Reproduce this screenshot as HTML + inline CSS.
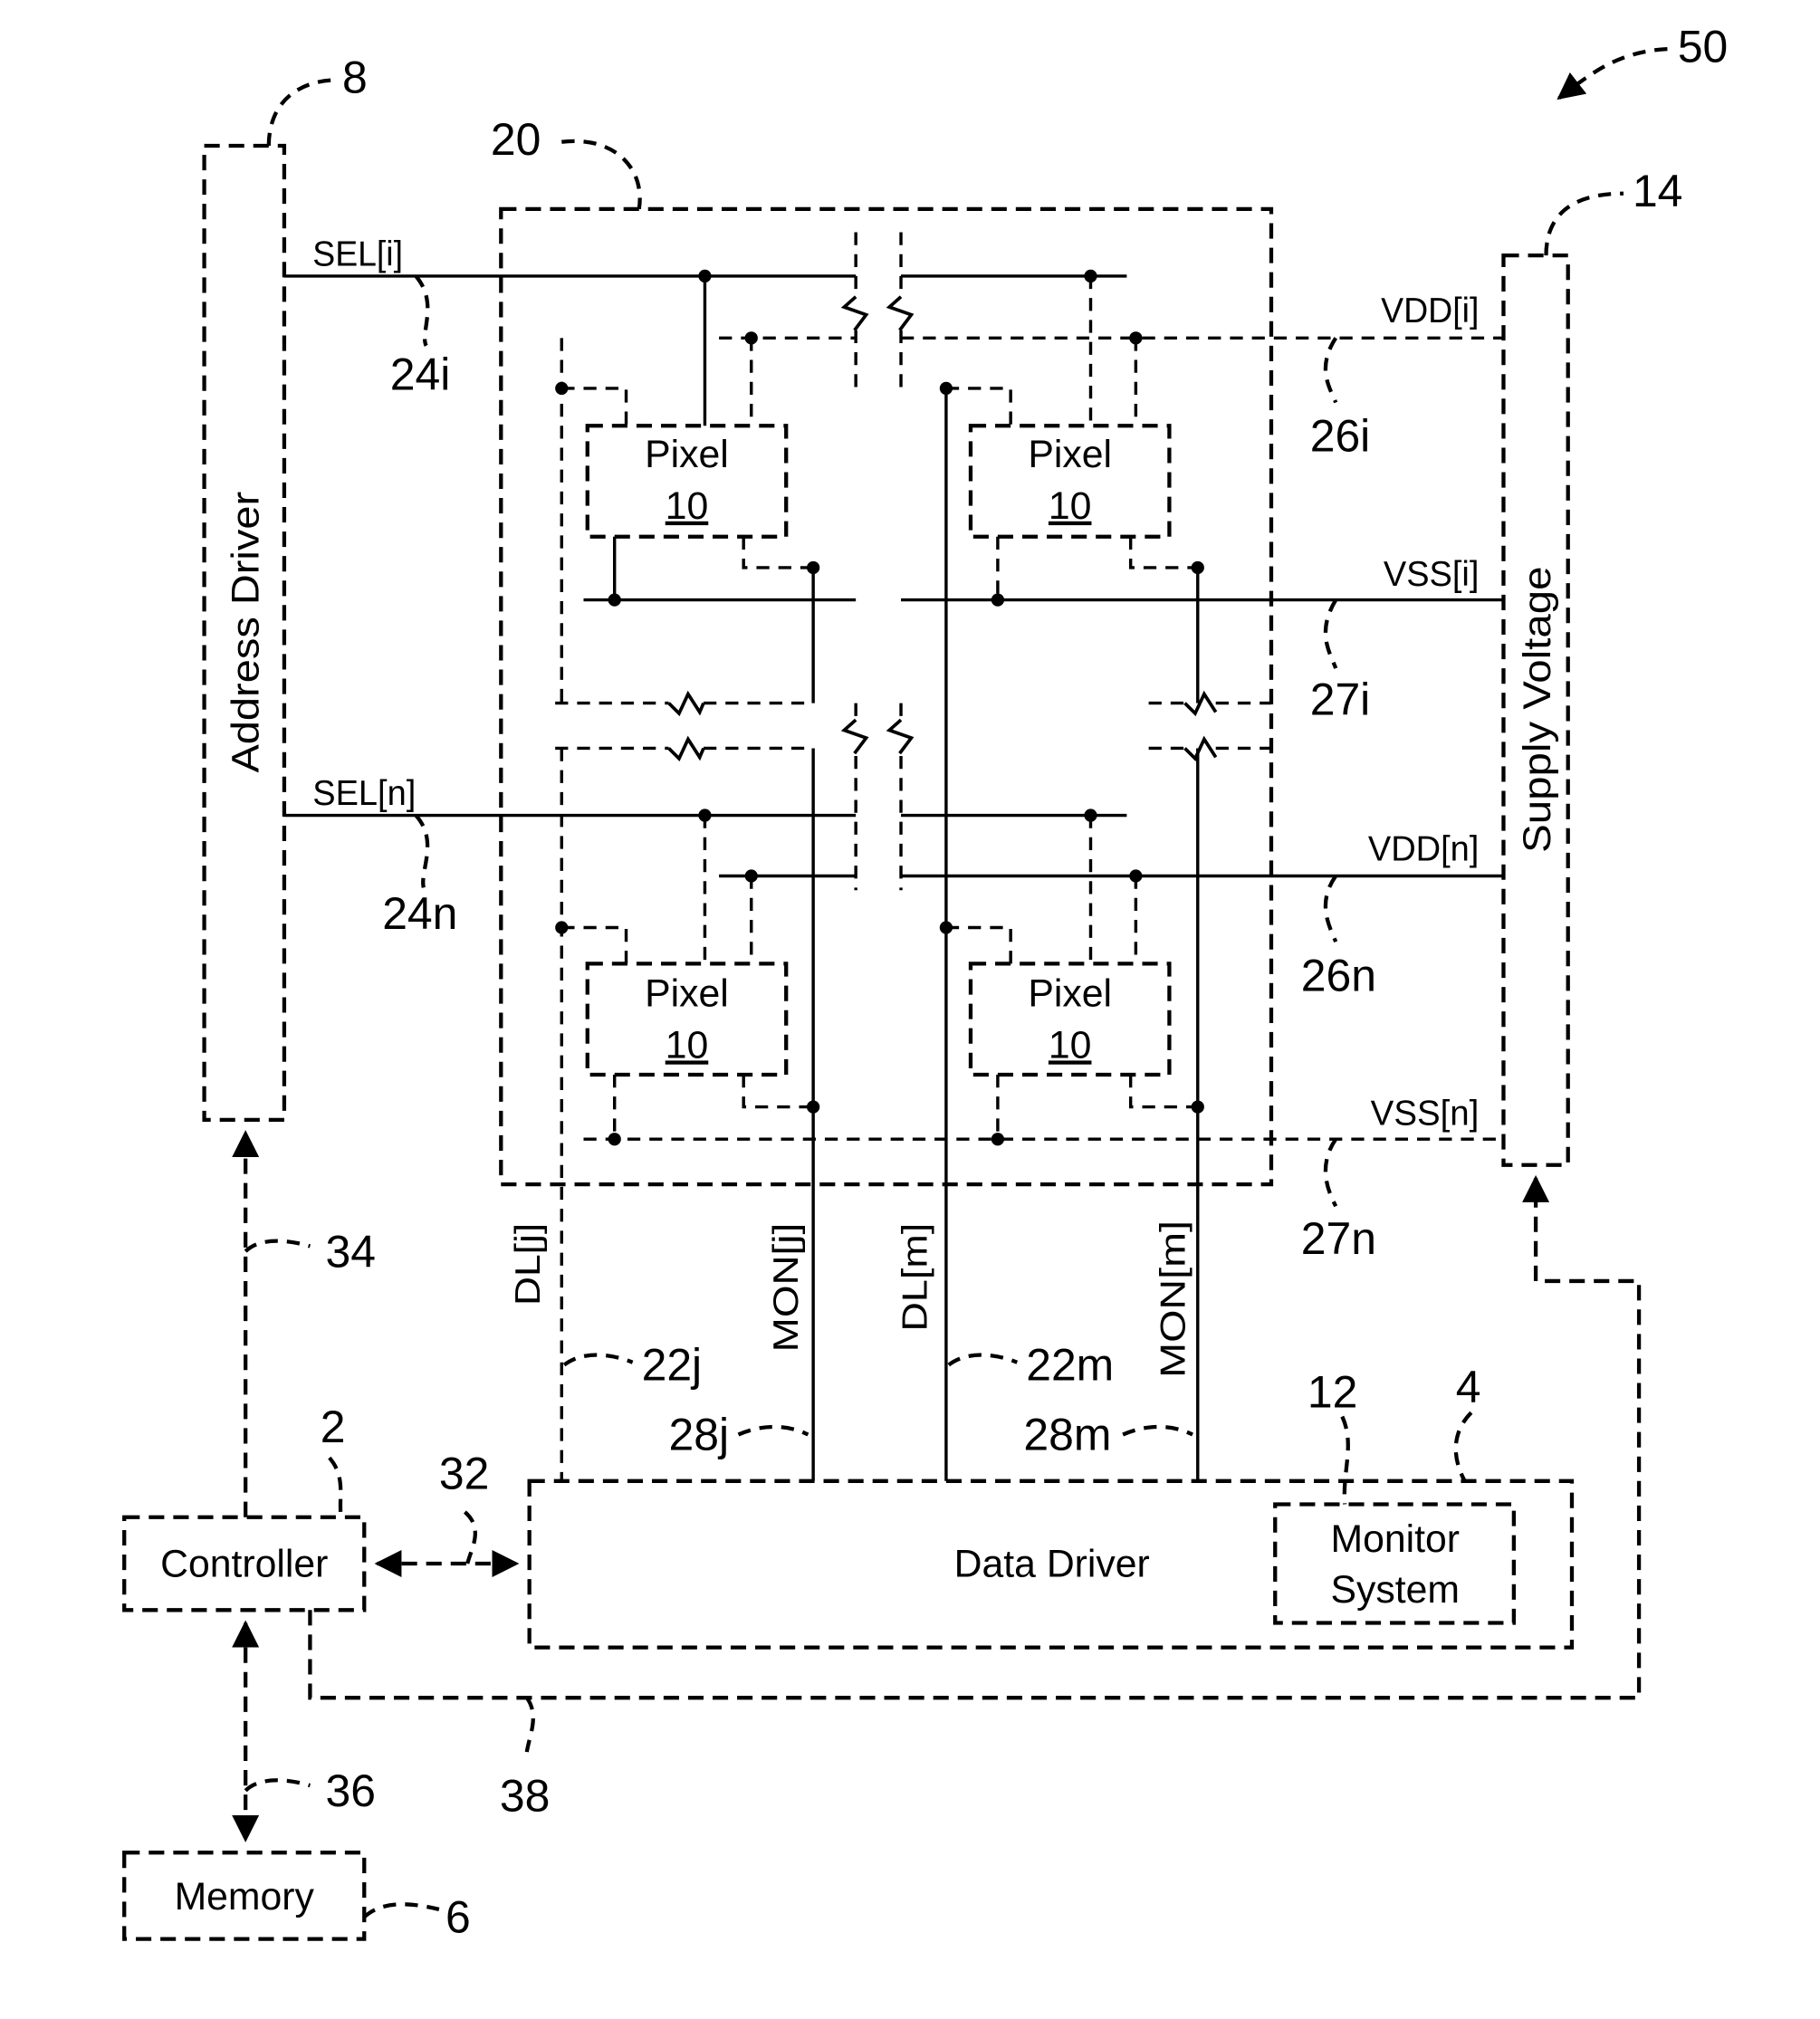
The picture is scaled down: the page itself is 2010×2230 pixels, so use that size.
<!DOCTYPE html>
<html><head><style>body{margin:0;background:#fff}svg{display:block}</style></head><body>
<svg width="2010" height="2230" viewBox="0 0 1410 1565" xmlns="http://www.w3.org/2000/svg" font-family="Liberation Sans, sans-serif">
<defs>
<marker id="ah" viewBox="0 0 10 10" refX="9" refY="5" markerWidth="7" markerHeight="7" orient="auto-start-reverse"><path d="M0,0 L10,5 L0,10 z" fill="#000"/></marker>
</defs>
<g fill="none" stroke="#000" stroke-width="3" stroke-dasharray="12,7">
<rect x="158" y="113" width="62" height="755"/>
<rect x="388" y="162" width="597" height="756"/>
<rect x="1165" y="198" width="50" height="705"/>
<rect x="455" y="330" width="154" height="86"/>
<rect x="752" y="330" width="154" height="86"/>
<rect x="455" y="747" width="154" height="86"/>
<rect x="752" y="747" width="154" height="86"/>
<rect x="410" y="1148" width="808" height="129"/>
<rect x="988" y="1166" width="185" height="92"/>
<rect x="96" y="1176" width="186" height="72"/>
<rect x="96" y="1436" width="186" height="67"/>
</g>
<g fill="none" stroke="#000" stroke-width="2.4" stroke-dasharray="10,7">
<path d="M663,180 V230 M663,256 V302 M698,180 V230 M698,256 V302"/>
<path d="M663,545 V558 M663,586 V690 M698,545 V558 M698,586 V690"/>
<path d="M557,262 H663 M698,262 H1165"/>
<path d="M435,262 V545 M435,580 V1148"/>
<path d="M435,301 H485 V330 M582,262 V330"/>
<path d="M576,416 V440 H630"/>
<path d="M733,301 H783 V330 M845,214 V330 M880,262 V330"/>
<path d="M773,416 V465 M876,416 V440 H928"/>
<path d="M430,545 H518 M545,545 H630 M430,580 H518 M545,580 H630"/>
<path d="M890,545 H918 M942,545 H985 M890,580 H918 M942,580 H985"/>
<path d="M435,719 H485 V747 M546,632 V747 M582,679 V747"/>
<path d="M476,833 V883 M576,833 V858 H630"/>
<path d="M733,719 H783 V747 M845,632 V747 M880,679 V747"/>
<path d="M773,833 V883 M876,833 V858 H928"/>
<path d="M452,883 H1165"/>
</g>
<g fill="none" stroke="#000" stroke-width="2.6">
<path d="M663,230 L654,238 L671,244 L662,256 M698,230 L689,238 L706,244 L697,256"/>
<path d="M663,558 L654,566 L671,572 L662,584 M698,558 L689,566 L706,572 L697,584"/>
<path d="M518,545 L526,553 L533,538 L542,552 L545,545 M518,580 L526,588 L533,573 L542,587 L545,580"/>
<path d="M918,545 L926,553 L933,538 L942,552 M918,580 L926,588 L933,573 L942,587"/>
</g>
<g fill="none" stroke="#000" stroke-width="2.4">
<path d="M220,214 H663 M698,214 H873"/>
<path d="M546,214 V330"/>
<path d="M476,416 V465 M452,465 H663 M698,465 H1165"/>
<path d="M630,440 V545 M630,580 V1148"/>
<path d="M733,301 V1148"/>
<path d="M928,440 V545 M928,580 V1148"/>
<path d="M220,632 H663 M698,632 H873"/>
<path d="M557,679 H663 M698,679 H1165"/>
</g>
<g fill="#000">
<circle cx="546" cy="214" r="5"/><circle cx="845" cy="214" r="5"/>
<circle cx="582" cy="262" r="5"/><circle cx="880" cy="262" r="5"/>
<circle cx="435" cy="301" r="5"/><circle cx="733" cy="301" r="5"/>
<circle cx="630" cy="440" r="5"/><circle cx="928" cy="440" r="5"/>
<circle cx="476" cy="465" r="5"/><circle cx="773" cy="465" r="5"/>
<circle cx="546" cy="632" r="5"/><circle cx="845" cy="632" r="5"/>
<circle cx="582" cy="679" r="5"/><circle cx="880" cy="679" r="5"/>
<circle cx="435" cy="719" r="5"/><circle cx="733" cy="719" r="5"/>
<circle cx="630" cy="858" r="5"/><circle cx="928" cy="858" r="5"/>
<circle cx="476" cy="883" r="5"/><circle cx="773" cy="883" r="5"/>
</g>
<g fill="none" stroke="#000" stroke-width="3" stroke-dasharray="12,7">
<path d="M190,1176 V878" marker-end="url(#ah)"/>
<path d="M292,1212 H400" marker-start="url(#ah)" marker-end="url(#ah)"/>
<path d="M190,1258 V1426" marker-start="url(#ah)" marker-end="url(#ah)"/>
<path d="M240,1248 V1316 H1270 V993 H1190 V913" marker-end="url(#ah)"/>
</g>
<g fill="none" stroke="#000" stroke-width="3" stroke-dasharray="10,7">
<path d="M208,113 C208,80 230,62 262,62"/>
<path d="M435,110 C475,105 500,130 495,162"/>
<path d="M1198,198 C1198,165 1220,150 1258,150"/>
<path d="M1292,38 C1255,40 1235,55 1208,76" marker-end="url(#ah)"/>
<path d="M322,214 C340,235 325,258 330,268"/>
<path d="M322,632 C340,652 325,675 328,688"/>
<path d="M1035,262 C1020,285 1030,300 1035,312"/>
<path d="M1035,465 C1020,490 1030,505 1035,518"/>
<path d="M1035,679 C1020,700 1030,718 1035,730"/>
<path d="M1035,883 C1020,905 1030,925 1035,935"/>
<path d="M190,970 C200,960 220,960 240,966"/>
<path d="M437,1058 C450,1048 470,1048 490,1056"/>
<path d="M735,1058 C748,1048 768,1048 788,1056"/>
<path d="M572,1112 C590,1104 610,1104 626,1112"/>
<path d="M870,1112 C888,1104 908,1104 924,1112"/>
<path d="M255,1130 C268,1145 262,1160 264,1176"/>
<path d="M360,1172 C375,1185 365,1200 362,1212"/>
<path d="M1040,1098 C1050,1120 1040,1140 1042,1166"/>
<path d="M1140,1095 C1125,1110 1125,1130 1135,1148"/>
<path d="M190,1388 C200,1378 220,1378 240,1384"/>
<path d="M408,1316 C418,1330 410,1345 408,1358"/>
<path d="M282,1486 C295,1474 315,1474 340,1480"/>
</g>
<g fill="#000" font-size="35">
<text x="265" y="72">8</text>
<text x="380" y="120">20</text>
<text x="1265" y="160">14</text>
<text x="1300" y="48">50</text>
<text x="302" y="302">24i</text>
<text x="296" y="720">24n</text>
<text x="1015" y="350">26i</text>
<text x="1015" y="554">27i</text>
<text x="1008" y="768">26n</text>
<text x="1008" y="972">27n</text>
<text x="252" y="982">34</text>
<text x="497" y="1070">22j</text>
<text x="795" y="1070">22m</text>
<text x="518" y="1124">28j</text>
<text x="793" y="1124">28m</text>
<text x="248" y="1118">2</text>
<text x="340" y="1154">32</text>
<text x="1013" y="1091">12</text>
<text x="1128" y="1087">4</text>
<text x="252" y="1400">36</text>
<text x="387" y="1404">38</text>
<text x="345" y="1498">6</text>
</g>
<g fill="#000" font-size="30">
<text x="532" y="362" text-anchor="middle">Pixel</text><text x="532" y="402" text-anchor="middle" text-decoration="underline">10</text>
<text x="829" y="362" text-anchor="middle">Pixel</text><text x="829" y="402" text-anchor="middle" text-decoration="underline">10</text>
<text x="532" y="780" text-anchor="middle">Pixel</text><text x="532" y="820" text-anchor="middle" text-decoration="underline">10</text>
<text x="829" y="780" text-anchor="middle">Pixel</text><text x="829" y="820" text-anchor="middle" text-decoration="underline">10</text>
<text x="815" y="1222" text-anchor="middle">Data Driver</text>
<text x="1081" y="1203" text-anchor="middle">Monitor</text>
<text x="1081" y="1242" text-anchor="middle">System</text>
<text x="189" y="1222" text-anchor="middle">Controller</text>
<text x="189" y="1480" text-anchor="middle">Memory</text>
<text transform="translate(200,490) rotate(-90)" text-anchor="middle" textLength="218" lengthAdjust="spacingAndGlyphs">Address Driver</text>
<text transform="translate(1201,550) rotate(-90)" text-anchor="middle" textLength="222" lengthAdjust="spacingAndGlyphs">Supply Voltage</text>
</g>
<g fill="#000" font-size="27">
<text x="242" y="206" textLength="70" lengthAdjust="spacingAndGlyphs">SEL[i]</text>
<text x="242" y="624" textLength="80" lengthAdjust="spacingAndGlyphs">SEL[n]</text>
<text x="1070" y="250" textLength="76" lengthAdjust="spacingAndGlyphs">VDD[i]</text>
<text x="1072" y="454" textLength="74" lengthAdjust="spacingAndGlyphs">VSS[i]</text>
<text x="1060" y="667" textLength="86" lengthAdjust="spacingAndGlyphs">VDD[n]</text>
<text x="1062" y="872" textLength="84" lengthAdjust="spacingAndGlyphs">VSS[n]</text>
<text transform="translate(418,1012) rotate(-90)" textLength="64" lengthAdjust="spacingAndGlyphs">DL[j]</text>
<text transform="translate(618,1048) rotate(-90)" textLength="100" lengthAdjust="spacingAndGlyphs">MON[j]</text>
<text transform="translate(718,1032) rotate(-90)" textLength="84" lengthAdjust="spacingAndGlyphs">DL[m]</text>
<text transform="translate(918,1068) rotate(-90)" textLength="122" lengthAdjust="spacingAndGlyphs">MON[m]</text>
</g>
</svg>
</body></html>
